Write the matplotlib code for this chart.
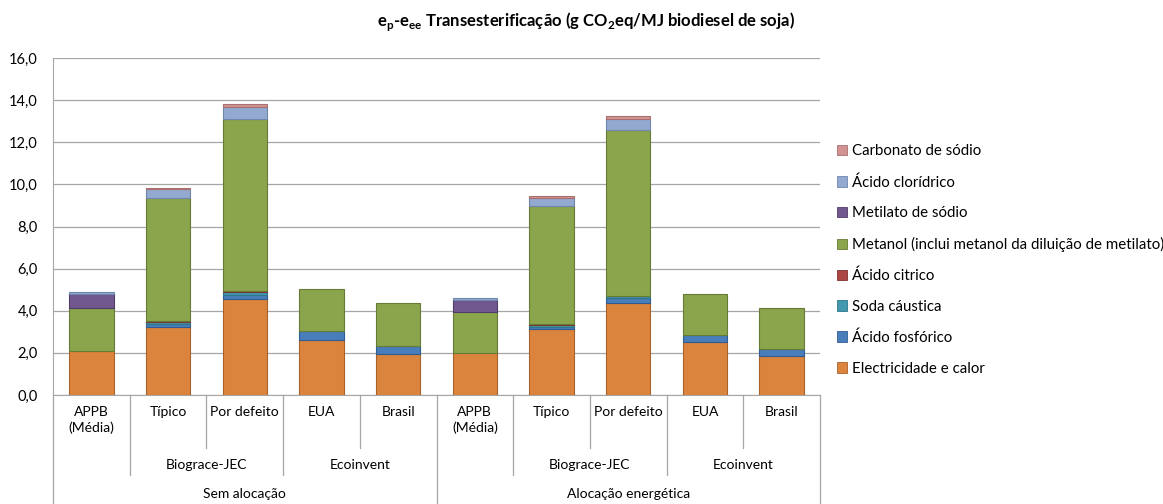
import numpy as np
import matplotlib.pyplot as plt
from matplotlib.patches import Patch
import matplotlib.transforms as mtransforms

plt.rcParams['font.family'] = ['Lato', 'DejaVu Sans']
plt.rcParams['mathtext.fontset'] = 'custom'
plt.rcParams['mathtext.rm'] = 'Lato'
plt.rcParams['mathtext.bf'] = 'Lato:bold'

categories = ['APPB\n(Média)', 'Típico', 'Por defeito', 'EUA', 'Brasil',
              'APPB\n(Média)', 'Típico', 'Por defeito', 'EUA', 'Brasil']
sources = [['', [0]], ['Biograce-JEC', [1, 2]], ['Ecoinvent', [3, 4]],
           ['', [5]], ['Biograce-JEC', [6, 7]], ['Ecoinvent', [8, 9]]]
allocations = [['Sem alocação', [0, 4]], ['Alocação energética', [5, 9]]]

series = ['Electricidade e calor', 'Ácido fosfórico', 'Soda cáustica', 'Ácido citrico',
          'Metanol (inclui metanol da diluição de metilato)', 'Metilato de sódio',
          'Ácido clorídrico', 'Carbonato de sódio']

electricidade = [2.10, 3.25, 4.57, 2.62, 1.96, 1.98, 3.12, 4.38, 2.50, 1.87]
fosforico     = [0.00, 0.12, 0.20, 0.40, 0.37, 0.00, 0.12, 0.22, 0.35, 0.33]
soda          = [0.00, 0.10, 0.13, 0.00, 0.00, 0.00, 0.10, 0.10, 0.00, 0.00]
citrico       = [0.00, 0.02, 0.02, 0.00, 0.00, 0.00, 0.02, 0.02, 0.00, 0.00]
metanol       = [2.05, 5.85, 8.20, 2.00, 2.02, 1.95, 5.60, 7.85, 1.93, 1.92]
metilato      = [0.65, 0.00, 0.00, 0.00, 0.00, 0.60, 0.00, 0.00, 0.00, 0.00]
cloridrico    = [0.07, 0.42, 0.57, 0.00, 0.00, 0.07, 0.40, 0.55, 0.00, 0.00]
carbonato     = [0.00, 0.08, 0.14, 0.00, 0.00, 0.00, 0.08, 0.12, 0.00, 0.00]

values = [electricidade, fosforico, soda, citrico, metanol, metilato, cloridrico, carbonato]
colors = ['#DB843D', '#4A7EBB', '#4198AF', '#AA4643', '#8BA54D', '#71588F', '#93A9CF', '#D19392']
edges = ['#A9612A', '#2F5C91', '#2C7689', '#7E302E', '#667B35', '#4F3C68', '#6F86AE', '#A87170']

fig = plt.figure(figsize=(11.63, 5.04), dpi=100)
ax = fig.add_axes([53 / 1163, 109 / 504, 767 / 1163, 337 / 504])

x = np.arange(len(categories))
bottom = np.zeros(len(categories))
for vals, c, ec in zip(values, colors, edges):
    vals = np.array(vals)
    keep = vals > 0
    ax.bar(x[keep], vals[keep], 0.58, bottom=bottom[keep], color=c, edgecolor=ec,
           linewidth=0.8, zorder=3)
    bottom += vals

ax.set_xlim(-0.5, len(categories) - 0.5)
ax.set_ylim(0, 16)
ax.set_yticks(np.arange(0, 17, 2))
ax.set_yticklabels([f'{v:.1f}'.replace('.', ',') for v in np.arange(0, 17, 2)], fontsize=10.5)
ax.yaxis.grid(True, color='#A6A6A6', linewidth=0.9, zorder=0)
ax.tick_params(axis='y', length=0, pad=11)
ax.set_xticks([])
for s in ['top', 'right']:
    ax.spines[s].set_visible(False)
ax.spines['left'].set_color('#A6A6A6')
ax.spines['bottom'].set_color('#A6A6A6')

# multi-level category axis
trans = mtransforms.blended_transform_factory(ax.transData, ax.transAxes)
def ypos(px):
    return (395 - px) / 337

for i, lab in enumerate(categories):
    ax.text(i, ypos(406), lab, transform=trans, ha='center', va='top', fontsize=10, linespacing=1.3)

for name, idx in sources:
    if name:
        ax.text(np.mean(idx), ypos(465), name, transform=trans, ha='center', va='center', fontsize=10)
for name, (a, b) in allocations:
    ax.text((a + b) / 2, ypos(494), name, transform=trans, ha='center', va='center', fontsize=10)

# separators
level_end = {}
for i in range(len(categories) + 1):
    level_end[i - 0.5] = ypos(448)
for name, idx in sources:
    level_end[idx[0] - 0.5] = ypos(475)
    level_end[idx[-1] + 0.5] = ypos(475)
for name, (a, b) in allocations:
    level_end[a - 0.5] = ypos(505)
    level_end[b + 0.5] = ypos(505)
for xp, yend in level_end.items():
    ax.plot([xp, xp], [0, yend], transform=trans, color='#A6A6A6', linewidth=0.9, clip_on=False)

fig.text(586 / 1163, 1 - 22 / 504,
         r'e$_\mathbf{p}$-e$_\mathbf{ee}$ Transesterificação (g CO$_\mathbf{2}$eq/MJ biodiesel de soja)',
         ha='center', va='center', fontsize=12, fontweight='bold')

handles = [Patch(facecolor=c, edgecolor=ec, linewidth=0.6) for c, ec in zip(colors, edges)]
fig.legend(handles[::-1], series[::-1], loc='upper left', bbox_to_anchor=(829 / 1163, 1 - 137 / 504),
           frameon=False, fontsize=10.8, labelspacing=1.11, handlelength=0.7, handleheight=0.7,
           handletextpad=0.35, borderpad=0)

fig.savefig('out.png', dpi=100)
